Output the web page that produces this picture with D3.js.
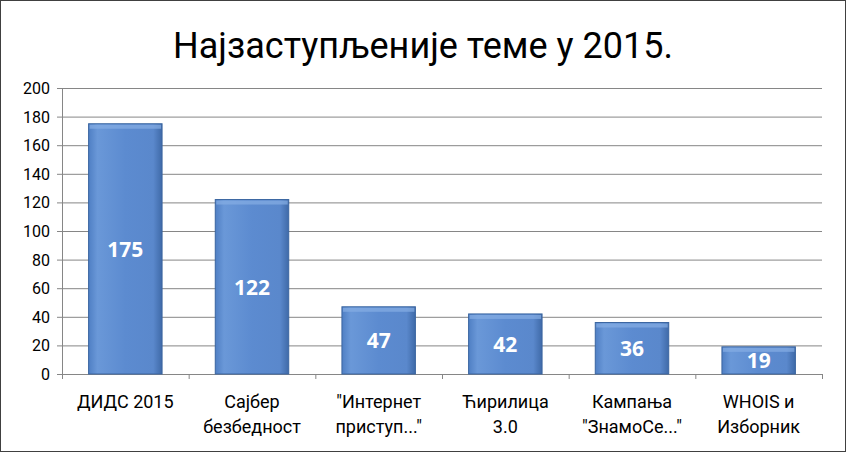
<!DOCTYPE html><html><head><meta charset="utf-8"><script src="https://cdn.jsdelivr.net/npm/d3@7"></script>
<style>body{margin:0;background:#fff}</style></head><body><svg id="c" width="846" height="452"></svg>
<script>
const categories=[["ДИДС 2015"],["Сајбер","безбедност"],["\"Интернет","приступ...\""],["Ћирилица","3.0"],["Кампања","\"ЗнамоСе...\""],["WHOIS и","Изборник"]];
const values=[175,122,47,42,36,19];
const ticks=[0,20,40,60,80,100,120,140,160,180,200];
const svg=d3.select("#c");
svg.append("rect").attr("x",0.5).attr("y",0.5).attr("width",845).attr("height",451).attr("fill","#fff").attr("stroke","#404040").attr("stroke-width",1);
const defs=svg.append("defs");
const g1=defs.append("linearGradient").attr("id","gh").attr("x1",0).attr("x2",1).attr("y1",0).attr("y2",0);
[[0,"#4f7fc4"],[0.12,"#6a98d8"],[0.5,"#5c8bd0"],[0.88,"#5a88cc"],[1,"#3f6aa8"]].forEach(d=>g1.append("stop").attr("offset",d[0]).attr("stop-color",d[1]));
const x=d3.scaleBand().domain(d3.range(6)).range([62,822]).paddingInner(0.42).paddingOuter(0.21);
const y=d3.scaleLinear().domain([0,200]).range([374,88]);
svg.append("text").attr("x",423).attr("y",58).attr("text-anchor","middle").attr("font-family","Roboto, Arial").attr("font-size",36).attr("fill","#000").text("Најзаступљеније теме у 2015.");
svg.append("g").selectAll("line").data(ticks).join("line").attr("x1",62).attr("x2",822).attr("y1",d=>y(d)+0.5).attr("y2",d=>y(d)+0.5).attr("stroke","#868686");
svg.append("line").attr("x1",62.5).attr("x2",62.5).attr("y1",88).attr("y2",378).attr("stroke","#868686");
svg.append("g").selectAll("line").data(ticks).join("line").attr("x1",57).attr("x2",62).attr("y1",d=>y(d)+0.5).attr("y2",d=>y(d)+0.5).attr("stroke","#868686");
svg.append("g").selectAll("line").data(d3.range(7)).join("line").attr("x1",d=>62+d*760/6+0.5).attr("x2",d=>62+d*760/6+0.5).attr("y1",374).attr("y2",379).attr("stroke","#868686");
svg.append("g").selectAll("text").data(ticks).join("text").attr("x",50).attr("y",d=>y(d)+6).attr("text-anchor","end").attr("font-family","Roboto, Arial").attr("font-size",16).text(d=>d);
const b=svg.append("g").selectAll("g").data(values).join("g");
b.append("rect").attr("x",(d,i)=>x(i)).attr("y",d=>y(d)).attr("width",x.bandwidth()).attr("height",d=>y(0)-y(d)).attr("fill","url(#gh)").attr("stroke","#3a65a0").attr("stroke-width",1);
b.append("rect").attr("x",(d,i)=>x(i)+1).attr("y",d=>y(d)+1).attr("width",x.bandwidth()-2).attr("height",4).attr("fill","#86aee4").attr("opacity",0.7);
b.append("text").attr("x",(d,i)=>x(i)+x.bandwidth()/2).attr("y",d=>(y(d)+y(0))/2+8).attr("text-anchor","middle").attr("font-family","'Open Sans', Arial").attr("font-weight","bold").attr("font-size",21).attr("fill","#fff").text(d=>d);
const lab=svg.append("g").selectAll("text").data(categories).join("text").attr("text-anchor","middle").attr("font-family","Roboto, Arial").attr("font-size",18).attr("fill","#000");
lab.each(function(d,i){d3.select(this).selectAll("tspan").data(d).join("tspan").attr("x",x(i)+x.bandwidth()/2).attr("y",(t,j)=>408+j*25).text(t=>t);});
</script></body></html>
